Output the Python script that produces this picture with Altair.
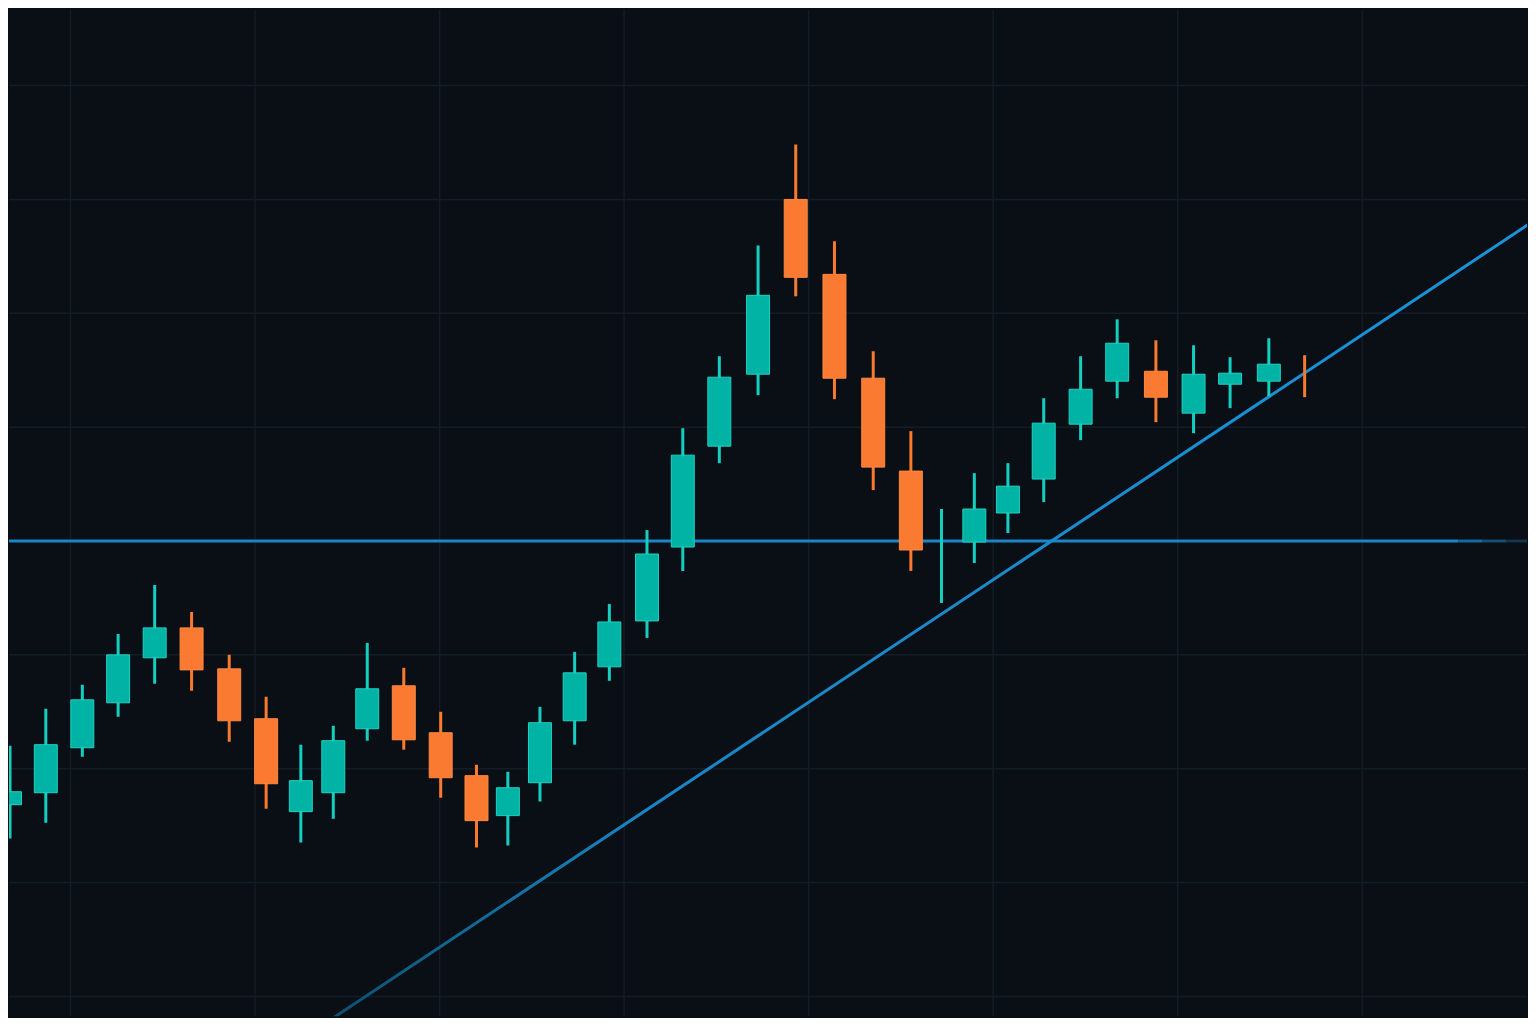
import altair as alt
import pandas as pd

# ---- candle data (time index t, prices) ----
t = [-1.64, -0.67, 0.32, 1.29, 2.28, 3.28, 4.30, 5.30, 6.24, 7.12,
     8.04, 9.03, 10.03, 11.00, 11.85, 12.72, 13.66, 14.60, 15.62, 16.59,
     17.58, 18.63, 19.65, 20.70, 21.75, 22.77, 23.60, 24.49, 25.40, 26.37,
     27.37, 28.36, 29.41, 30.43, 31.42, 32.47, 33.44]
open_ = [76.84, 77.89, 81.84, 85.79, 89.74, 92.37, 88.77, 84.39, 76.23, 77.89,
         83.51, 87.28, 83.16, 79.39, 75.88, 78.77, 84.21, 88.95, 92.98, 99.47,
         108.33, 114.65, 130.00, 123.42, 114.30, 106.14, 99.98, 99.91, 102.46, 105.44,
         110.26, 114.04, 114.91, 111.23, 113.77, 114.04, 114.62]
close = [77.98, 82.11, 86.05, 90.00, 92.37, 88.68, 84.21, 78.68, 78.95, 82.46,
         87.02, 82.54, 79.21, 75.44, 78.33, 84.04, 88.42, 92.89, 98.86, 107.54,
         114.39, 121.58, 123.16, 114.30, 106.49, 99.21, 100.02, 102.81, 104.82, 110.35,
         113.33, 117.37, 112.63, 114.65, 114.74, 115.53, 114.58]
high = [82.02, 85.26, 87.37, 91.84, 96.14, 93.77, 90.00, 86.32, 82.11, 83.77,
        91.05, 88.86, 85.00, 80.35, 79.74, 85.44, 90.26, 94.47, 100.96, 109.91,
        116.23, 125.96, 134.82, 126.32, 116.67, 109.65, 102.81, 105.96, 106.84, 112.54,
        116.23, 119.47, 117.63, 117.19, 116.14, 117.81, 116.32]
low = [73.86, 75.26, 81.05, 84.56, 87.46, 86.84, 82.37, 76.49, 73.51, 75.61,
       82.46, 81.67, 77.46, 73.07, 73.25, 77.11, 82.11, 87.72, 91.49, 97.37,
       106.84, 112.81, 121.49, 112.46, 104.47, 97.37, 94.56, 98.07, 100.70, 103.42,
       108.86, 112.54, 110.44, 109.47, 111.67, 112.72, 112.63]

# ---- grid, support level, trend line ----
grid_t = [0, 5, 10, 15, 20, 25, 30, 35]
grid_p = [60, 70, 80, 90, 100, 110, 120, 130, 140]
level_p = 100
level_t = [-2.0, 37.6]
fade_t = [37.6, 38.25, 38.9, 39.55]
fade_t2 = [38.25, 38.9, 39.55, 40.2]
fade_alpha = [0.75, 0.5, 0.28, 0.1]
trend_t = [5, 40]
trend_p = [53.55, 128.88]

BG = "#0a0f16"
GRID = "#141c25"
TEAL = "#00b3a5"
TEAL_EDGE = "#1fd3c3"
ORANGE = "#f97a30"
ORANGE_EDGE = "#ff8a42"
BLUE = "#1a86c8"

candles = pd.DataFrame({"t": t, "open": open_, "close": close, "high": high, "low": low})
grid_x = pd.DataFrame({"t": grid_t})
grid_y = pd.DataFrame({"p": grid_p})
level = pd.DataFrame({"t": [level_t[0]], "t2": [level_t[1]], "p": [level_p]})
fade = pd.DataFrame({"t": fade_t, "t2": fade_t2, "a": fade_alpha, "p": [level_p] * len(fade_t)})
trend = pd.DataFrame({"t": trend_t, "p": trend_p})

xs = alt.Scale(domain=[-1.532, 39.33], nice=False, zero=False)
ys = alt.Scale(domain=[58.25, 146.67], nice=False, zero=False)

up = "datum.close >= datum.open"

gx = alt.Chart(grid_x).mark_rule(color=GRID, strokeWidth=1.5).encode(
    x=alt.X("t:Q", scale=xs, axis=None))
gy = alt.Chart(grid_y).mark_rule(color=GRID, strokeWidth=1.5).encode(
    y=alt.Y("p:Q", scale=ys, axis=None))

lvl = alt.Chart(level).mark_rule(color=BLUE, strokeWidth=3, clip=True).encode(
    x=alt.X("t:Q", scale=xs, axis=None), x2="t2:Q",
    y=alt.Y("p:Q", scale=ys, axis=None))
lvl_fade = alt.Chart(fade).mark_rule(color=BLUE, strokeWidth=3, clip=True).encode(
    x=alt.X("t:Q", scale=xs, axis=None), x2="t2:Q",
    y=alt.Y("p:Q", scale=ys, axis=None),
    opacity=alt.Opacity("a:Q", scale=None))

grad = alt.Gradient(
    gradient="linear",
    stops=[alt.GradientStop(color="#0a3d58", offset=0),
           alt.GradientStop(color="#0f5f86", offset=0.12),
           alt.GradientStop(color="#1886c6", offset=0.3),
           alt.GradientStop(color="#1a93dc", offset=1)],
    x1=0, x2=1, y1=1, y2=0)
trend_line = alt.Chart(trend).mark_line(color=grad, strokeWidth=3, clip=True).encode(
    x=alt.X("t:Q", scale=xs, axis=None),
    y=alt.Y("p:Q", scale=ys, axis=None))

wicks = alt.Chart(candles).mark_rule(strokeWidth=3, clip=True).encode(
    x=alt.X("t:Q", scale=xs, axis=None),
    y=alt.Y("low:Q", scale=ys, axis=None), y2="high:Q",
    color=alt.condition(up, alt.value("#14cfc0"), alt.value("#f77a2e")))

bodies = alt.Chart(candles).transform_filter(
    "abs(datum.close - datum.open) > 0.1"
).mark_bar(size=23, strokeWidth=1, clip=True).encode(
    x=alt.X("t:Q", scale=xs, axis=None),
    y=alt.Y("open:Q", scale=ys, axis=None), y2="close:Q",
    fill=alt.condition(up, alt.value(TEAL), alt.value(ORANGE)),
    stroke=alt.condition(up, alt.value(TEAL_EDGE), alt.value(ORANGE_EDGE)))

chart = alt.layer(gx, gy, lvl, lvl_fade, trend_line, wicks, bodies).properties(
    width=1520, height=1008, background=BG, padding=0
).configure_view(strokeWidth=0, fill=BG)

chart.save("out.html", embed_options={"renderer": "svg", "actions": False})
